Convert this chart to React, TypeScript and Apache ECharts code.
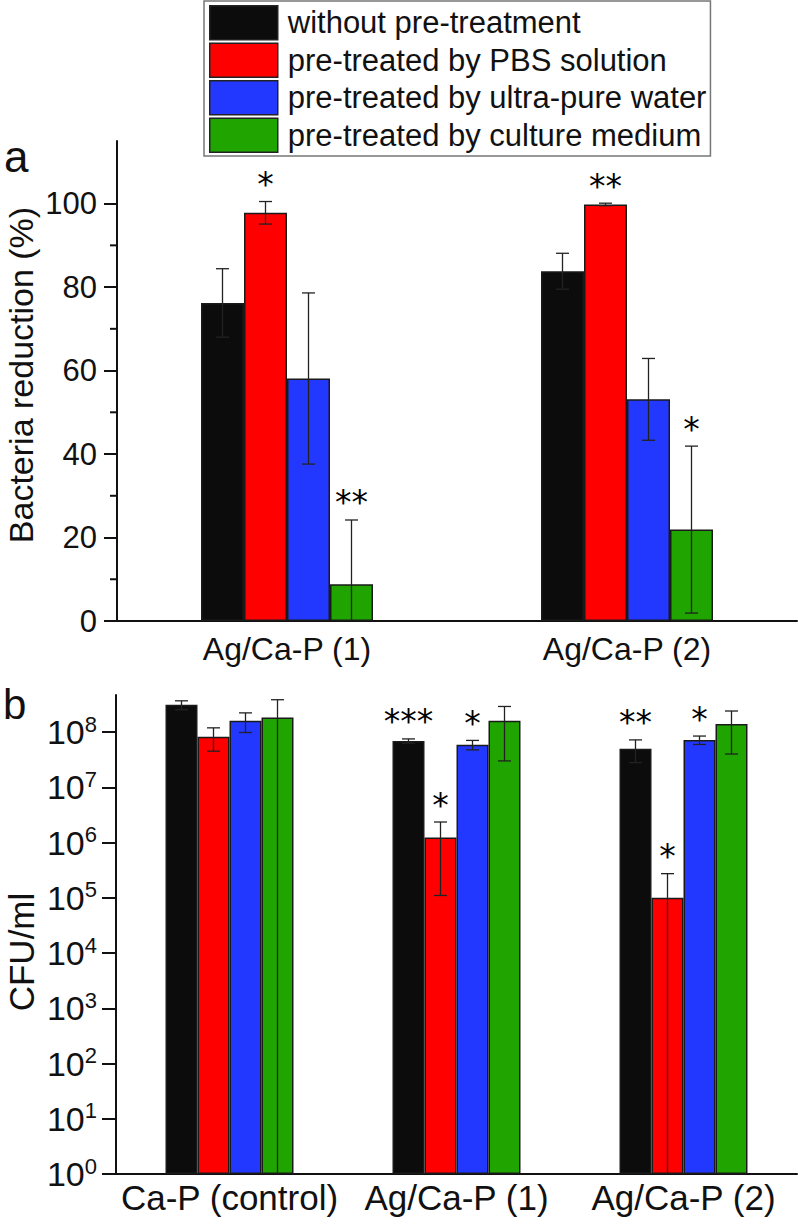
import React, { useEffect, useRef } from "react";
import * as echarts from "echarts";

const FONT = "'Liberation Sans', Arial, Helvetica, sans-serif";

const seriesNames = [
  "without pre-treatment",
  "pre-treated by PBS solution",
  "pre-treated by ultra-pure water",
  "pre-treated by culture medium",
];
const seriesColors = ["#0b0c0b", "#ff0000", "#2238ff", "#1fa400"];

// Panel a: bacteria reduction (%)
const catsA = ["Ag/Ca-P (1)", "Ag/Ca-P (2)"];
const reductionMean = [
  [76.2, 83.8],
  [97.8, 99.8],
  [58.1, 53.1],
  [8.8, 21.9],
];
const reductionSD = [
  [8.2, 4.3],
  [2.7, 0.3],
  [20.5, 9.8],
  [15.4, 20.0],
];
const reductionStars = [
  ["", ""],
  ["*", "**"],
  ["", ""],
  ["**", "*"],
];
const yTicksA = [0, 20, 40, 60, 80, 100];
const yMinorA = [10, 30, 50, 70, 90];

// Panel b: CFU/ml
const catsB = ["Ca-P (control)", "Ag/Ca-P (1)", "Ag/Ca-P (2)"];
const cfuMean = [
  [3.1e8, 6.9e7, 5.0e7],
  [8.2e7, 1.23e6, 1.0e5],
  [1.6e8, 5.9e7, 7.2e7],
  [1.84e8, 1.6e8, 1.4e8],
];
const cfuSD = [
  [5.7e7, 6.0e6, 2.2e7],
  [3.7e7, 1.12e6, 1.73e5],
  [6.2e7, 1.15e7, 1.25e7],
  [2.0e8, 1.3e8, 1.0e8],
];
const cfuStars = [
  ["", "***", "**"],
  ["", "*", "*"],
  ["", "*", "*"],
  ["", "", ""],
];
const decadesB = [0, 1, 2, 3, 4, 5, 6, 7, 8];

const BAR_A = 43;
const BAR_B = 32;

// data rows: [category index, mean, low end, high end, lowClamped(1/0)]
function errorSeries(
  i: number,
  xAxisIndex: number,
  yAxisIndex: number,
  data: number[][],
  stars: string[],
  barW: number
) {
  return {
    type: "custom",
    name: "err-" + xAxisIndex + "-" + i,
    xAxisIndex,
    yAxisIndex,
    z: 5,
    silent: true,
    clip: false,
    data,
    encode: { x: 0, y: 1 },
    renderItem: (params: any, api: any) => {
      const j = api.value(0);
      const x = api.coord([j, api.value(1)])[0] + (i - 1.5) * barW;
      const yLo = api.coord([j, api.value(2)])[1];
      const yHi = api.coord([j, api.value(3)])[1];
      const clamped = api.value(4) === 1;
      const cap = 6.5;
      const ls = { stroke: "#222", lineWidth: 1.3 };
      const children: any[] = [
        { type: "line", shape: { x1: x, y1: yHi, x2: x, y2: yLo }, style: ls },
        { type: "line", shape: { x1: x - cap, y1: yHi, x2: x + cap, y2: yHi }, style: ls },
      ];
      if (!clamped) {
        children.push({
          type: "line",
          shape: { x1: x - cap, y1: yLo, x2: x + cap, y2: yLo },
          style: ls,
        });
      }
      const s = stars[params.dataIndex];
      if (s) {
        children.push({
          type: "text",
          style: {
            text: s,
            x,
            y: yHi - 17,
            align: "center",
            verticalAlign: "middle",
            fontSize: 33,
            fontFamily: "'DejaVu Sans', sans-serif",
            fill: "#000",
          },
        });
      }
      return { type: "group", children };
    },
  };
}

export default function App() {
  const ref = useRef<HTMLDivElement>(null);

  useEffect(() => {
    if (!ref.current) return;
    const chart = echarts.init(ref.current, null, { renderer: "svg" });

    const axisLine = { show: true, lineStyle: { color: "#111", width: 2 } };
    const tickStyle = { color: "#111", width: 2 };

    const series: any[] = [];
    seriesNames.forEach((name, i) => {
      series.push({
        type: "bar",
        name,
        xAxisIndex: 0,
        yAxisIndex: 0,
        data: reductionMean[i],
        barWidth: BAR_A,
        barGap: "0%",
        itemStyle: { color: seriesColors[i], borderColor: "#1a1a1a", borderWidth: 1.5 },
      });
    });
    seriesNames.forEach((name, i) => {
      series.push({
        type: "bar",
        name,
        xAxisIndex: 1,
        yAxisIndex: 1,
        data: cfuMean[i].map((v) => Math.log10(v)),
        barWidth: BAR_B,
        barGap: "0%",
        itemStyle: { color: seriesColors[i], borderColor: "#1a1a1a", borderWidth: 1.5 },
      });
    });
    seriesNames.forEach((_, i) => {
      const data = reductionMean[i].map((m, j) => {
        const low = m - reductionSD[i][j];
        return [j, m, Math.max(low, 0), m + reductionSD[i][j], low < 0 ? 1 : 0];
      });
      series.push(errorSeries(i, 0, 0, data, reductionStars[i], BAR_A));
    });
    seriesNames.forEach((_, i) => {
      const data = cfuMean[i].map((m, j) => {
        const sd = cfuSD[i][j];
        const ok = m - sd > 1;
        return [j, Math.log10(m), ok ? Math.log10(m - sd) : 0, Math.log10(m + sd), ok ? 0 : 1];
      });
      series.push(errorSeries(i, 1, 1, data, cfuStars[i], BAR_B));
    });
    // minor ticks of panel a's y axis
    series.push({
      type: "custom",
      name: "minor-ticks-a",
      xAxisIndex: 0,
      yAxisIndex: 0,
      silent: true,
      clip: false,
      z: 6,
      data: yMinorA.map((v) => [0, v]),
      encode: { x: 0, y: 1 },
      renderItem: (params: any, api: any) => {
        const pt = api.coord([0, api.value(1)]);
        const band = api.size([1, 0])[0];
        const x0 = pt[0] - band / 2;
        return {
          type: "line",
          shape: { x1: x0 - 7, y1: pt[1], x2: x0, y2: pt[1] },
          style: { stroke: "#111", lineWidth: 2 },
        };
      },
    });

    const option: any = {
      animation: false,
      backgroundColor: "#ffffff",
      textStyle: { fontFamily: FONT },
      legend: {
        data: seriesNames,
        orient: "vertical",
        left: 204,
        top: 1,
        itemWidth: 68,
        itemHeight: 34,
        itemGap: 2,
        icon: "rect",
        padding: [4, 4, 3, 5],
        borderColor: "#777",
        borderWidth: 1.5,
        selectedMode: false,
        itemStyle: { borderColor: "#222", borderWidth: 1.5 },
        textStyle: {
          fontSize: 31,
          color: "#111",
          fontFamily: FONT,
          lineHeight: 34,
          padding: [0, 0, 0, 5],
        },
      },
      graphic: [
        {
          type: "text",
          left: 4,
          top: 134,
          style: { text: "a", fontSize: 44, fontFamily: FONT, fill: "#111" },
        },
        {
          type: "text",
          left: 3,
          top: 683,
          style: { text: "b", fontSize: 42, fontFamily: FONT, fill: "#111" },
        },
        {
          type: "text",
          x: 21,
          y: 375,
          rotation: Math.PI / 2,
          style: {
            text: "Bacteria reduction (%)",
            fontSize: 34,
            fontFamily: FONT,
            fill: "#111",
            align: "center",
            verticalAlign: "middle",
          },
        },
        {
          type: "text",
          x: 21,
          y: 952,
          rotation: Math.PI / 2,
          style: {
            text: "CFU/ml",
            fontSize: 35,
            fontFamily: FONT,
            fill: "#111",
            align: "center",
            verticalAlign: "middle",
          },
        },
      ],
      grid: [
        { left: 117, top: 141, width: 680, height: 480 },
        { left: 116, top: 695, width: 681, height: 479 },
      ],
      xAxis: [
        {
          gridIndex: 0,
          type: "category",
          data: catsA,
          axisLine,
          axisTick: { alignWithLabel: true, length: 12, lineStyle: tickStyle },
          axisLabel: { fontSize: 32, color: "#111", margin: 12, fontFamily: FONT, interval: 0 },
          splitLine: { show: false },
        },
        {
          gridIndex: 1,
          type: "category",
          data: catsB,
          axisLine,
          axisTick: { alignWithLabel: true, length: 12, lineStyle: tickStyle },
          axisLabel: {
            fontSize: 35,
            color: "#111",
            margin: 6,
            fontFamily: FONT,
            interval: 0,
            hideOverlap: false,
          },
          splitLine: { show: false },
        },
      ],
      yAxis: [
        {
          gridIndex: 0,
          type: "value",
          min: 0,
          max: 115,
          axisLine,
          axisTick: { show: true, length: 13, lineStyle: tickStyle, customValues: yTicksA },
          axisLabel: {
            fontSize: 31,
            color: "#111",
            margin: 20,
            fontFamily: FONT,
            customValues: yTicksA,
          },
          splitLine: { show: false },
        },
        {
          gridIndex: 1,
          type: "value",
          min: 0,
          max: 8.67,
          axisLine,
          axisTick: { show: true, length: 14, lineStyle: tickStyle, customValues: decadesB },
          axisLabel: {
            color: "#111",
            margin: 19,
            fontFamily: FONT,
            customValues: decadesB,
            formatter: (v: number) => "{b|10}{s|" + Math.round(v) + "}",
            rich: {
              b: { fontSize: 34, fontFamily: FONT, color: "#111" },
              s: { fontSize: 22, fontFamily: FONT, color: "#111", padding: [0, 0, 16, 0] },
            },
          },
          splitLine: { show: false },
        },
      ],
      series,
    };

    chart.setOption(option);
    return () => {
      chart.dispose();
    };
  }, []);

  return (
    <div
      ref={ref}
      style={{ position: "fixed", left: 0, top: 0, width: 798, height: 1232, background: "#fff" }}
    />
  );
}
